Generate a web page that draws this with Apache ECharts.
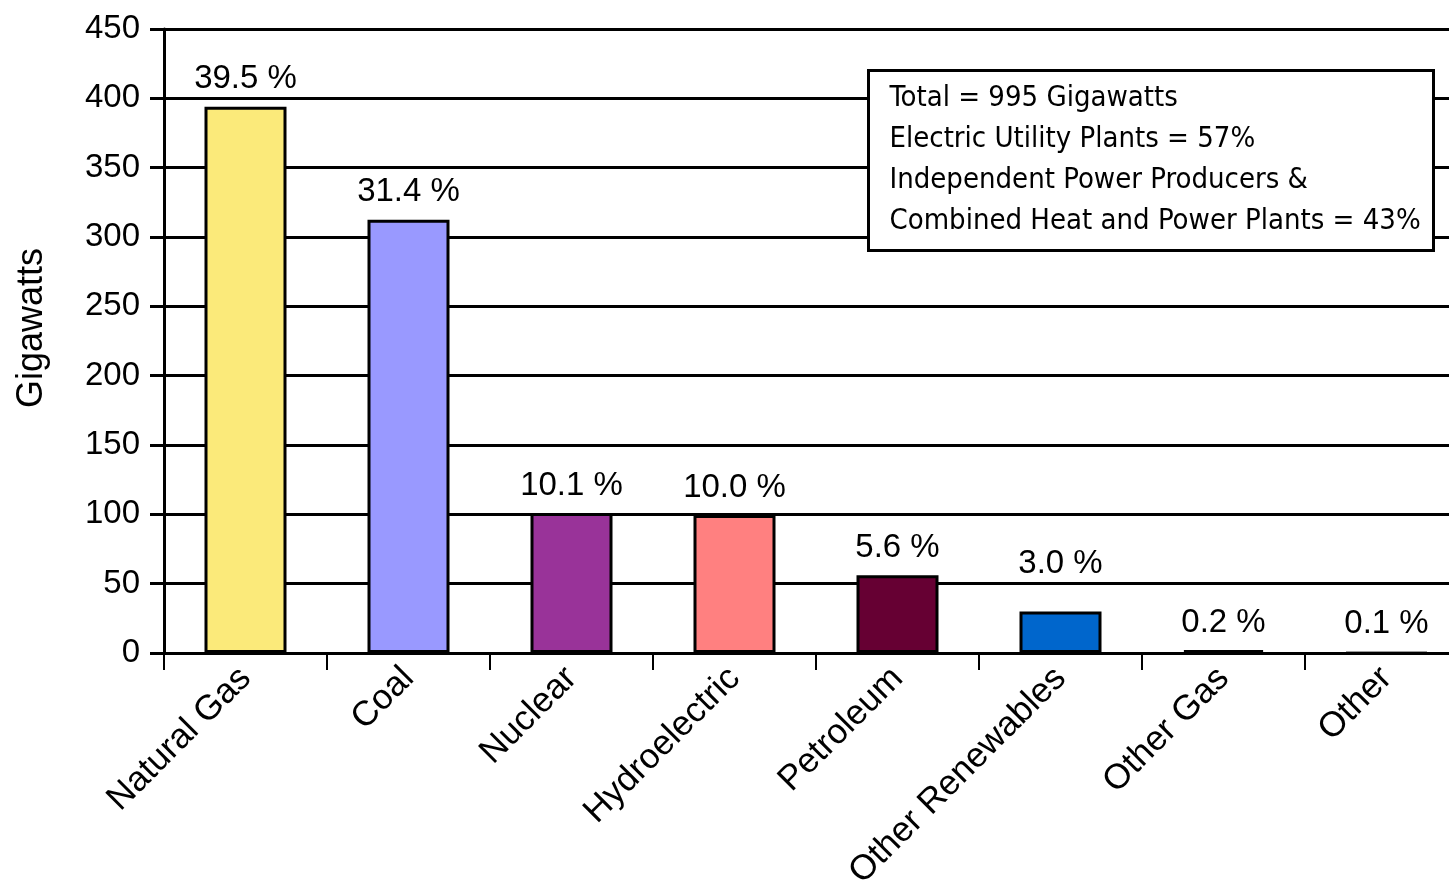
<!DOCTYPE html>
<html>
<head>
<meta charset="utf-8">
<script src="https://cdn.jsdelivr.net/npm/echarts@6/dist/echarts.min.js"></script>
<style>
  html, body { margin: 0; padding: 0; background: #fff; overflow: hidden; }
  #chart { width: 1480px; height: 889px; }
</style>
</head>
<body>
<div id="chart"></div>
<script>
const categories = ["Natural Gas", "Coal", "Nuclear", "Hydroelectric", "Petroleum", "Other Renewables", "Other Gas", "Other"];
const gigawatts = [394, 312.4, 101, 99.5, 56, 29.9, 2, 1];
const shareLabels = ["39.5 %", "31.4 %", "10.1 %", "10.0 %", "5.6 %", "3.0 %", "0.2 %", "0.1 %"];
const barColors = ["#FBEA7A", "#9999FF", "#993399", "#FF8080", "#660033", "#0066CC", "#222222", "#CCFFFF"];
const noteLines = [
  "Total = 995 Gigawatts",
  "Electric Utility Plants = 57%",
  "Independent Power Producers &",
  "Combined Heat and Power Plants = 43%"
];

const font = "'Liberation Sans', Arial, sans-serif";
const chart = echarts.init(document.getElementById("chart"));

chart.setOption({
  backgroundColor: "#fff",
  animation: false,
  grid: { left: 164, top: 29, width: 1304, height: 624, outerBoundsMode: "none", containLabel: false },
  xAxis: {
    type: "category",
    data: categories,
    axisLine: { lineStyle: { color: "#000", width: 3 } },
    axisTick: { show: true, length: 17, lineStyle: { color: "#000", width: 2 } },
    axisLabel: {
      interval: 0,
      rotate: 45,
      margin: 20,
      color: "#000",
      fontFamily: font,
      fontSize: 35
    }
  },
  yAxis: {
    type: "value",
    min: 0,
    max: 450,
    interval: 50,
    name: "Gigawatts",
    nameLocation: "middle",
    nameGap: 114,
    nameTextStyle: { color: "#000", fontFamily: font, fontSize: 36, padding: [0, 0, 0, 26] },
    axisLine: { show: true, lineStyle: { color: "#000", width: 3 } },
    axisTick: { show: true, length: 14, lineStyle: { color: "#000", width: 3 } },
    axisLabel: { color: "#000", fontFamily: font, fontSize: 33, margin: 24 },
    splitLine: { lineStyle: { color: "#000", width: 3 } }
  },
  series: [{
    type: "bar",
    barWidth: 82,
    data: gigawatts.map((v, i) => ({
      value: v,
      itemStyle: { color: barColors[i], borderWidth: i === 7 ? 1 : 3 },
      label: i === 5 ? { offset: [0, -20] } : undefined
    })),
    itemStyle: { borderColor: "#000", borderWidth: 3 },
    label: {
      show: true,
      position: "top",
      distance: 11,
      color: "#000",
      fontFamily: font,
      fontSize: 33,
      formatter: (p) => shareLabels[p.dataIndex]
    }
  }],
  graphic: [{
    type: "group",
    left: 867,
    top: 69,
    z: 100,
    children: [
      {
        type: "rect",
        z: 100,
        shape: { x: 0, y: 0, width: 565, height: 180 },
        style: { fill: "#fff", stroke: "#000", lineWidth: 3 }
      },
      ...noteLines.map((t, i) => ({
        type: "text",
        z: 101,
        x: 21,
        y: 28 + i * 41,
        style: {
          text: t,
          fill: "#000",
          font: "29px 'Liberation Sans Narrow', 'DejaVu Sans Condensed', Arial, sans-serif",
          textVerticalAlign: "middle"
        }
      }))
    ]
  }]
});
</script>
</body>
</html>
